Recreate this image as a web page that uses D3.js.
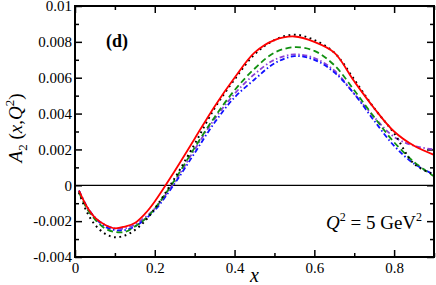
<!DOCTYPE html>
<html>
<head>
<meta charset="utf-8">
<script src="https://cdn.jsdelivr.net/npm/d3@7"></script>
<style>
  body { margin: 0; background: #fff; }
  svg text { font-family: "Liberation Serif", "Times New Roman", serif; fill: #000; }
  .tick text { font-size: 15px; }
  .domain { display: none; }
  .tick line { stroke: #000; stroke-width: 1.5; }
</style>
</head>
<body>
<div id="chart"></div>
<script>
'use strict';

// x grid shared by every curve
var xs = [0.01, 0.03, 0.05, 0.075, 0.1, 0.125, 0.15, 0.175, 0.2, 0.25, 0.3, 0.35, 0.4,
          0.45, 0.5, 0.55, 0.6, 0.65, 0.7, 0.75, 0.8, 0.85, 0.9];

// A2(x, Q^2)
var redSolid = [-0.0003, -0.0012, -0.0018, -0.0022, -0.0024, -0.0023, -0.0021, -0.0016, -0.0009,
                0.0008, 0.0026, 0.0044, 0.0060, 0.0074, 0.0081, 0.0083, 0.0080, 0.0074, 0.0058,
                0.0043, 0.0030, 0.0022, 0.0017];
var blackDot = [-0.0004, -0.0015, -0.0022, -0.0027, -0.0029, -0.0028, -0.0025, -0.0020, -0.0013,
                0.0004, 0.0023, 0.0043, 0.0059, 0.0073, 0.0081, 0.0084, 0.0081, 0.0074, 0.0059,
                0.0043, 0.0029, 0.0012, 0.0006];
var greenDash = [-0.0004, -0.0013, -0.0019, -0.0024, -0.0026, -0.0026, -0.0023, -0.0019, -0.0013,
                 0.0003, 0.0021, 0.0038, 0.0053, 0.0065, 0.0074, 0.0077, 0.0075, 0.0067, 0.0053,
                 0.0038, 0.0024, 0.0013, 0.0005];
var purpleDashDot = [-0.0003, -0.0012, -0.0018, -0.0022, -0.0024, -0.0024, -0.0022, -0.0018, -0.0013,
                     0.0002, 0.0020, 0.0037, 0.0051, 0.0062, 0.0070, 0.0073, 0.0071, 0.0064, 0.0051,
                     0.0038, 0.0027, 0.0022, 0.0020];
var blueDashDot = [-0.0003, -0.0012, -0.0018, -0.0023, -0.0025, -0.0025, -0.0023, -0.0019, -0.0014,
                   0.0001, 0.0018, 0.0035, 0.0049, 0.0059, 0.0068, 0.0072, 0.0070, 0.0063, 0.0051,
                   0.0036, 0.0022, 0.0012, 0.0006];

var xMajor = [0, 0.2, 0.4, 0.6, 0.8];
var xMinor = [0.1, 0.3, 0.5, 0.7, 0.9];
var yMajor = [-0.004, -0.002, 0, 0.002, 0.004, 0.006, 0.008, 0.01];
var yMinor = [-0.003, -0.001, 0.001, 0.003, 0.005, 0.007, 0.009];

var FONT = '"Liberation Serif", "Times New Roman", serif';

var W = 436, H = 285;
var m = { left: 75, right: 2, top: 6, bottom: 28 };
var iw = W - m.left - m.right;
var ih = H - m.top - m.bottom;

var x = d3.scaleLinear().domain([0, 0.9]).range([0, iw]);
var y = d3.scaleLinear().domain([-0.004, 0.01]).range([ih, 0]);

var svg = d3.select('#chart').append('svg')
    .attr('width', W)
    .attr('height', H)
    .attr('font-family', FONT);

var g = svg.append('g').attr('transform', 'translate(' + m.left + ',' + m.top + ')');

function fmt(d) {
    return d === 0 ? '0' : String(+d.toFixed(3));
}

function serif(sel) {
    sel.attr('font-family', FONT);
}

// bottom axis with labels, inward ticks
g.append('g')
    .attr('transform', 'translate(0,' + ih + ')')
    .call(d3.axisBottom(x).tickValues(xMajor).tickSize(-7).tickPadding(5).tickFormat(fmt))
    .call(serif);
g.append('g')
    .attr('transform', 'translate(0,' + ih + ')')
    .call(d3.axisBottom(x).tickValues(xMinor).tickSize(-4).tickFormat(''));
// top ticks
g.append('g')
    .call(d3.axisTop(x).tickValues(xMajor).tickSize(-7).tickFormat(''));
g.append('g')
    .call(d3.axisTop(x).tickValues(xMinor).tickSize(-4).tickFormat(''));

// left axis
g.append('g')
    .call(d3.axisLeft(y).tickValues(yMajor).tickSize(-7).tickPadding(3).tickFormat(fmt))
    .call(serif);
g.append('g')
    .call(d3.axisLeft(y).tickValues(yMinor).tickSize(-4).tickFormat(''));
// right ticks
g.append('g')
    .attr('transform', 'translate(' + iw + ',0)')
    .call(d3.axisRight(y).tickValues(yMajor).tickSize(-7).tickFormat(''));
g.append('g')
    .attr('transform', 'translate(' + iw + ',0)')
    .call(d3.axisRight(y).tickValues(yMinor).tickSize(-4).tickFormat(''));

// zero line
g.append('line')
    .attr('x1', 0).attr('x2', iw)
    .attr('y1', y(0)).attr('y2', y(0))
    .attr('stroke', '#000')
    .attr('stroke-width', 1.2);

var series = [
    { v: purpleDashDot, color: '#8a3fd6', dash: '5,2.5,1.5,2.5', w: 1.8 },
    { v: blueDashDot, color: '#1010ff', dash: '5,2.5,1.5,2.5', w: 1.8 },
    { v: greenDash, color: '#109010', dash: '6,3.5', w: 1.8 },
    { v: blackDot, color: '#000', dash: '1.8,3.6', w: 2 },
    { v: redSolid, color: '#ff0000', dash: null, w: 1.8 }
];

var line = d3.line()
    .x(function (d) { return x(d[0]); })
    .y(function (d) { return y(d[1]); })
    .curve(d3.curveCatmullRom.alpha(0.5));

g.append('g').selectAll('path')
    .data(series)
    .enter()
    .append('path')
    .attr('d', function (s) {
        return line(xs.map(function (xv, i) { return [xv, s.v[i]]; }));
    })
    .attr('fill', 'none')
    .attr('stroke', function (s) { return s.color; })
    .attr('stroke-width', function (s) { return s.w; })
    .attr('stroke-dasharray', function (s) { return s.dash; });

// frame
g.append('rect')
    .attr('width', iw).attr('height', ih)
    .attr('fill', 'none')
    .attr('stroke', '#000')
    .attr('stroke-width', 2);

// panel tag
g.append('text')
    .attr('x', 31).attr('y', 41)
    .attr('font-size', 18)
    .attr('font-weight', 'bold')
    .text('(d)');

// Q^2 label
var q = g.append('text')
    .attr('x', 251).attr('y', 223)
    .attr('font-size', 19);
q.append('tspan').attr('font-style', 'italic').text('Q');
q.append('tspan').attr('dy', -8).attr('font-size', 12).text('2');
q.append('tspan').attr('dy', 8).text(' = 5 GeV');
q.append('tspan').attr('dy', -8).attr('font-size', 12).text('2');

// x label
svg.append('text')
    .attr('x', m.left + x(0.45)).attr('y', 282)
    .attr('text-anchor', 'middle')
    .attr('font-size', 20)
    .attr('font-style', 'italic')
    .text('x');

// y label
var yl = svg.append('text')
    .attr('transform', 'translate(22,128) rotate(-90)')
    .attr('text-anchor', 'middle')
    .attr('font-size', 19);
yl.append('tspan').attr('font-style', 'italic').text('A');
yl.append('tspan').attr('dy', 5).attr('font-size', 13).text('2');
yl.append('tspan').attr('dy', -5).text(' (');
yl.append('tspan').attr('font-style', 'italic').text('x');
yl.append('tspan').text(',');
yl.append('tspan').attr('font-style', 'italic').text('Q');
yl.append('tspan').attr('dy', -8).attr('font-size', 13).text('2');
yl.append('tspan').attr('dy', 8).text(')');
</script>
</body>
</html>
